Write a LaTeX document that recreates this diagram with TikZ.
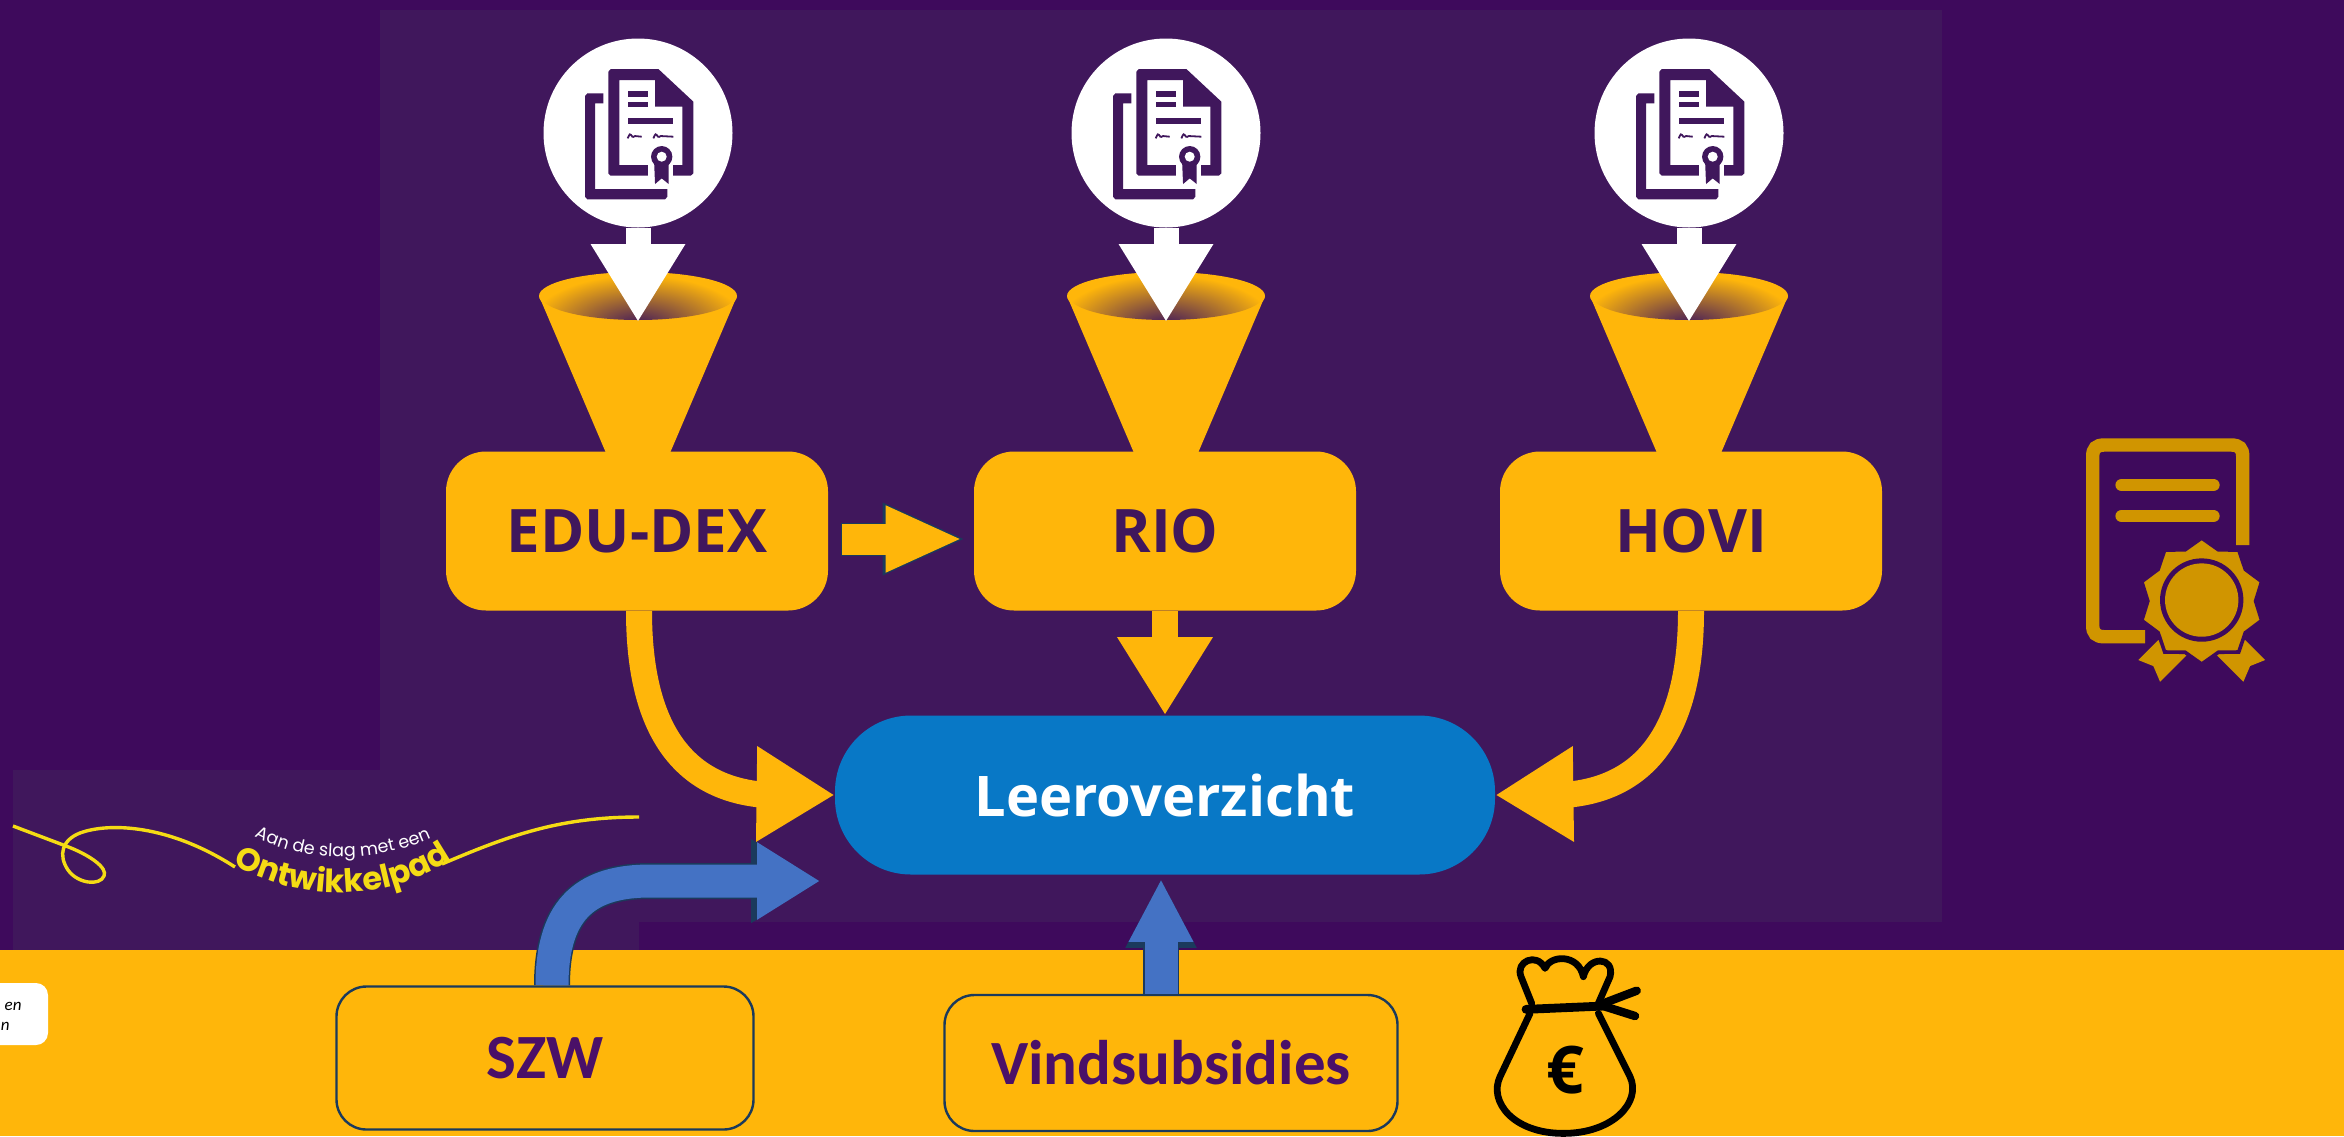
\documentclass[tikz,border=0pt]{standalone}
\usepackage{fontspec}
\setmainfont{Open Sans}
\newfontfamily\carlitofont{Carlito}
\newfontfamily\logofont{Poppins}
\usetikzlibrary{arrows.meta,shapes.geometric,decorations.text,calc}
\definecolor{pageback}{HTML}{3E0A5C}
\definecolor{panelback}{HTML}{40175C}
\definecolor{gold}{HTML}{FFB60A}
\definecolor{icongold}{HTML}{D09500}
\definecolor{leerblue}{HTML}{0878C6}
\definecolor{arrowblue}{HTML}{4472C4}
\definecolor{arrowedge}{HTML}{1B3A5C}
\definecolor{logoyellow}{HTML}{F5DC14}
\definecolor{fundtext}{HTML}{4A1068}
\tikzset{
    sourcebox/.style={fill=gold, rounded corners=20pt, minimum width=191pt, minimum height=79.5pt,
        inner sep=0pt, text=panelback, font=\fontsize{30}{36}\selectfont\bfseries},
    fundbox/.style={draw=arrowedge, line width=1.2pt, fill=gold, rounded corners=15pt, inner sep=0pt,
        text=fundtext, font=\carlitofont\fontsize{31.5}{38}\selectfont\bfseries},
    goldlink/.style={draw=gold, line width=13pt, -{Triangle[length=39pt,width=45pt]}},
    whitelink/.style={draw=white, line width=12.5pt, -{Triangle[length=39pt,width=44.5pt]}},
    midlink/.style={draw=gold, line width=15.5pt, shorten >=5.5pt, shorten <=7pt, -{Triangle[length=38.5pt,width=30.5pt]},
        preaction={draw=arrowedge, line width=16.5pt, shorten >=3.5pt, shorten <=6.5pt, -{Triangle[length=42pt,width=33pt]}}},
    szwlink/.style={draw=arrowblue, line width=16.5pt, shorten >=2pt, -{Triangle[length=31.5pt,width=36.5pt]},
        preaction={draw=arrowedge, line width=18pt, -{Triangle[length=34.5pt,width=39.5pt]}}},
    vindlink/.style={draw=arrowblue, line width=16.5pt, shorten >=2pt, -{Triangle[length=31.5pt,width=30pt]},
        preaction={draw=arrowedge, line width=18pt, -{Triangle[length=34.5pt,width=33pt]}}},
    bagline/.style={draw=black, line width=3.4pt, line cap=round, line join=round},
    docpart/.style={fill=panelback}
}
\begin{document}
\begin{tikzpicture}[x=0.5pt, y=-0.5pt]
    \clip (0, 0) rectangle (2344, 1136);
    \fill[pageback] (0, 0) rectangle (2344, 1136);

    % panels
    \fill[panelback] (380, 10) rectangle (1942, 922);
    \fill[panelback] (13, 770) rectangle (639, 950);
    \fill[gold] (0, 950) rectangle (2344, 1136);

    % funnels with the document above them
    \foreach \cx/\nm in {638/edu, 1166/rio, 1689/hovi} {
        \fill[gold] (\cx-99, 296) -- (\cx-29, 460) -- (\cx+29, 460) -- (\cx+99, 296) -- cycle;
        \fill[gold] (\cx, 296) ellipse [x radius=99, y radius=24];
        \begin{scope}
            \clip (\cx, 296) ellipse [x radius=97, y radius=24];
            \shade[inner color=panelback, outer color=gold] (\cx, 325) ellipse [x radius=108, y radius=50];
        \end{scope}
        \node[circle, fill=white, minimum size=94.5pt, inner sep=0pt] (\nm src) at (\cx, 133) {};
        \coordinate (\nm tip) at (\cx, 322);
        \draw[whitelink] (\nm src.south) -- (\nm tip);

        \begin{scope}[shift={(\cx-158, 0)}, x=0.1667pt, y=-0.1667pt]
            \fill[docpart, even odd rule] (385, 215) -- (392, 207) -- (535, 207) -- (640, 305) -- (640, 520) -- (632, 527) -- (392, 527) -- (385, 520) -- cycle
                (418, 240) -- (525, 240) -- (525, 320) -- (607, 320) -- (607, 495) -- (418, 495) -- cycle;
            \fill[docpart] (370, 280) -- (322, 280) -- (315, 288) -- (315, 590) -- (322, 598) -- (555, 598) -- (562, 590) -- (562, 567) -- (345, 567) -- (345, 310) -- (370, 310) -- cycle;
            \fill[docpart] (443, 272) rectangle (505, 290);
            \fill[docpart] (443, 305) rectangle (505, 322);
            \fill[docpart] (443, 355) rectangle (580, 373);
            \draw[panelback, line width=0.9pt] (443, 415) .. controls (455, 385) and (450, 420) .. (465, 408) -- (485, 410);
            \draw[panelback, line width=0.9pt] (520, 415) .. controls (532, 385) and (527, 420) .. (542, 408) -- (580, 410);
            \fill[white] (505, 495) rectangle (578, 527);
            \fill[docpart] (522, 480) -- (566, 480) -- (566, 552) -- (545, 535) -- (525, 552) -- cycle;
            \fill[docpart] (545, 470) circle [radius=32];
            \fill[white] (545, 470) circle [radius=15];
        \end{scope}
    }

    % source boxes
    \node[sourcebox] (edu) at (637, 531) {EDU-DEX};
    \node[sourcebox] (rio) at (1165, 531) {RIO};
    \node[sourcebox] (hovi) at (1691, 531) {HOVI};

    \node[fill=leerblue, rounded corners=38pt, minimum width=330pt, minimum height=79.5pt, inner sep=0pt,
        text=white, font=\fontsize{28}{34}\selectfont\bfseries] (leer) at (1165, 795) {Leeroverzicht};

    \node[fundbox, minimum width=208.5pt, minimum height=71.5pt] (szw) at (545, 1058) {SZW};
    \node[fundbox, minimum width=226.5pt, minimum height=68pt] (vind) at (1171, 1063) {Vindsubsidies};

    \coordinate (szwend) at (824, 881);

    % links
    \draw[midlink] ([yshift=-4pt]edu.east) -- ([yshift=-4pt]rio.west);
    \draw[goldlink] (rio.south) -- (leer.north);
    \draw[goldlink] ([xshift=1pt]edu.south) .. controls (639, 725) and (680, 784) .. (756, 794) -- (leer.west);
    \draw[goldlink] (hovi.south) .. controls (1691, 725) and (1650, 784) .. (1574, 794) -- (leer.east);
    \draw[szwlink] ([xshift=3.5pt]szw.north) .. controls (552, 905) and (590, 881) .. (650, 881) -- (szwend);
    \draw[vindlink] ([xshift=-5pt]vind.north) -- ([xshift=-2pt]leer.south);

    % logo
    \draw[logoyellow, line width=1.7pt] (13, 826) -- (66, 846) .. controls (90, 855) and (108, 868) .. (104, 876)
        .. controls (100, 886) and (78, 884) .. (68, 870) .. controls (58, 855) and (62, 840) .. (80, 833)
        .. controls (110, 822) and (170, 825) .. (235, 867);
    \draw[logoyellow, line width=1.7pt] (442, 864) .. controls (510, 835) and (560, 817) .. (639, 817);
    \path[decorate, decoration={text along path, text align=center,
        text={|\logofont\fontsize{16}{16}\selectfont\bfseries\color{logoyellow}|Ontwikkelpad}}]
        (226, 860) .. controls (290, 902) and (390, 907) .. (458, 854);
    \path[decorate, decoration={text along path, text align=center,
        text={|\logofont\fontsize{8.8}{9}\selectfont\color{white}|Aan de slag met een}}]
        (250, 834) .. controls (300, 864) and (380, 864) .. (436, 836);

    % cut-off note
    \node[fill=white, rounded corners=6pt, minimum width=60pt, minimum height=31pt, inner sep=0pt] (note) at (-12, 1014) {};
    \node[anchor=east, inner sep=0pt, font=\carlitofont\fontsize{8.5}{10}\selectfont\itshape] (noteen) at (22, 1006) {en};
    \node[anchor=east, inner sep=0pt, font=\carlitofont\fontsize{8.5}{10}\selectfont\itshape] (noten) at (10, 1026) {n};

    % money bag
    \begin{scope}[shift={(1450, 920)}, x=0.1667pt, y=-0.1667pt]
        \draw[bagline] (245, 250) -- (213, 170) .. controls (195, 125) and (260, 95) .. (285, 145)
            .. controls (300, 105) and (385, 100) .. (400, 170) .. controls (415, 105) and (495, 110) .. (480, 170) -- (445, 250);
        \draw[bagline, line width=4.4pt] (228, 268) -- (460, 258);
        \draw[bagline, line width=4.2pt] (460, 250) -- (560, 212);
        \draw[bagline, line width=4.2pt] (460, 258) -- (555, 288);
        \draw[bagline] (240, 280) -- (150, 470) .. controls (115, 545) and (190, 640) .. (340, 640)
            .. controls (490, 640) and (575, 545) .. (540, 470) -- (445, 280);
        \node[inner sep=0pt, font=\fontsize{33}{38}\selectfont\bfseries] (euro) at (345, 450) {€};
    \end{scope}

    % certificate
    \begin{scope}[shift={(2050, 420)}, x=0.1667pt, y=-0.1667pt]
        \draw[icongold, line width=6.7pt] (578, 375) -- (578, 110) .. controls (578, 85) and (568, 75) .. (543, 75)
            -- (163, 75) .. controls (138, 75) and (128, 85) .. (128, 110) -- (128, 615) .. controls (128, 640) and (138, 650) .. (163, 650) -- (285, 650);
        \draw[icongold, line width=6.3pt, line cap=round] (215, 195) -- (490, 195);
        \draw[icongold, line width=6.3pt, line cap=round] (215, 288) -- (490, 288);
        \fill[icongold] (325, 660) -- (265, 720) -- (310, 738) -- (330, 785) -- (410, 705) -- cycle;
        \fill[icongold] (585, 660) -- (645, 720) -- (600, 738) -- (580, 785) -- (500, 705) -- cycle;
        \node[star, star points=10, star point ratio=1.17, fill=icongold, draw=pageback, line width=1.8pt,
            minimum size=63pt, inner sep=0pt] (seal) at (455, 543) {};
        \fill[pageback] (455, 540) circle [radius=125];
        \fill[icongold] (455, 540) circle [radius=110];
    \end{scope}
\end{tikzpicture}
\end{document}
